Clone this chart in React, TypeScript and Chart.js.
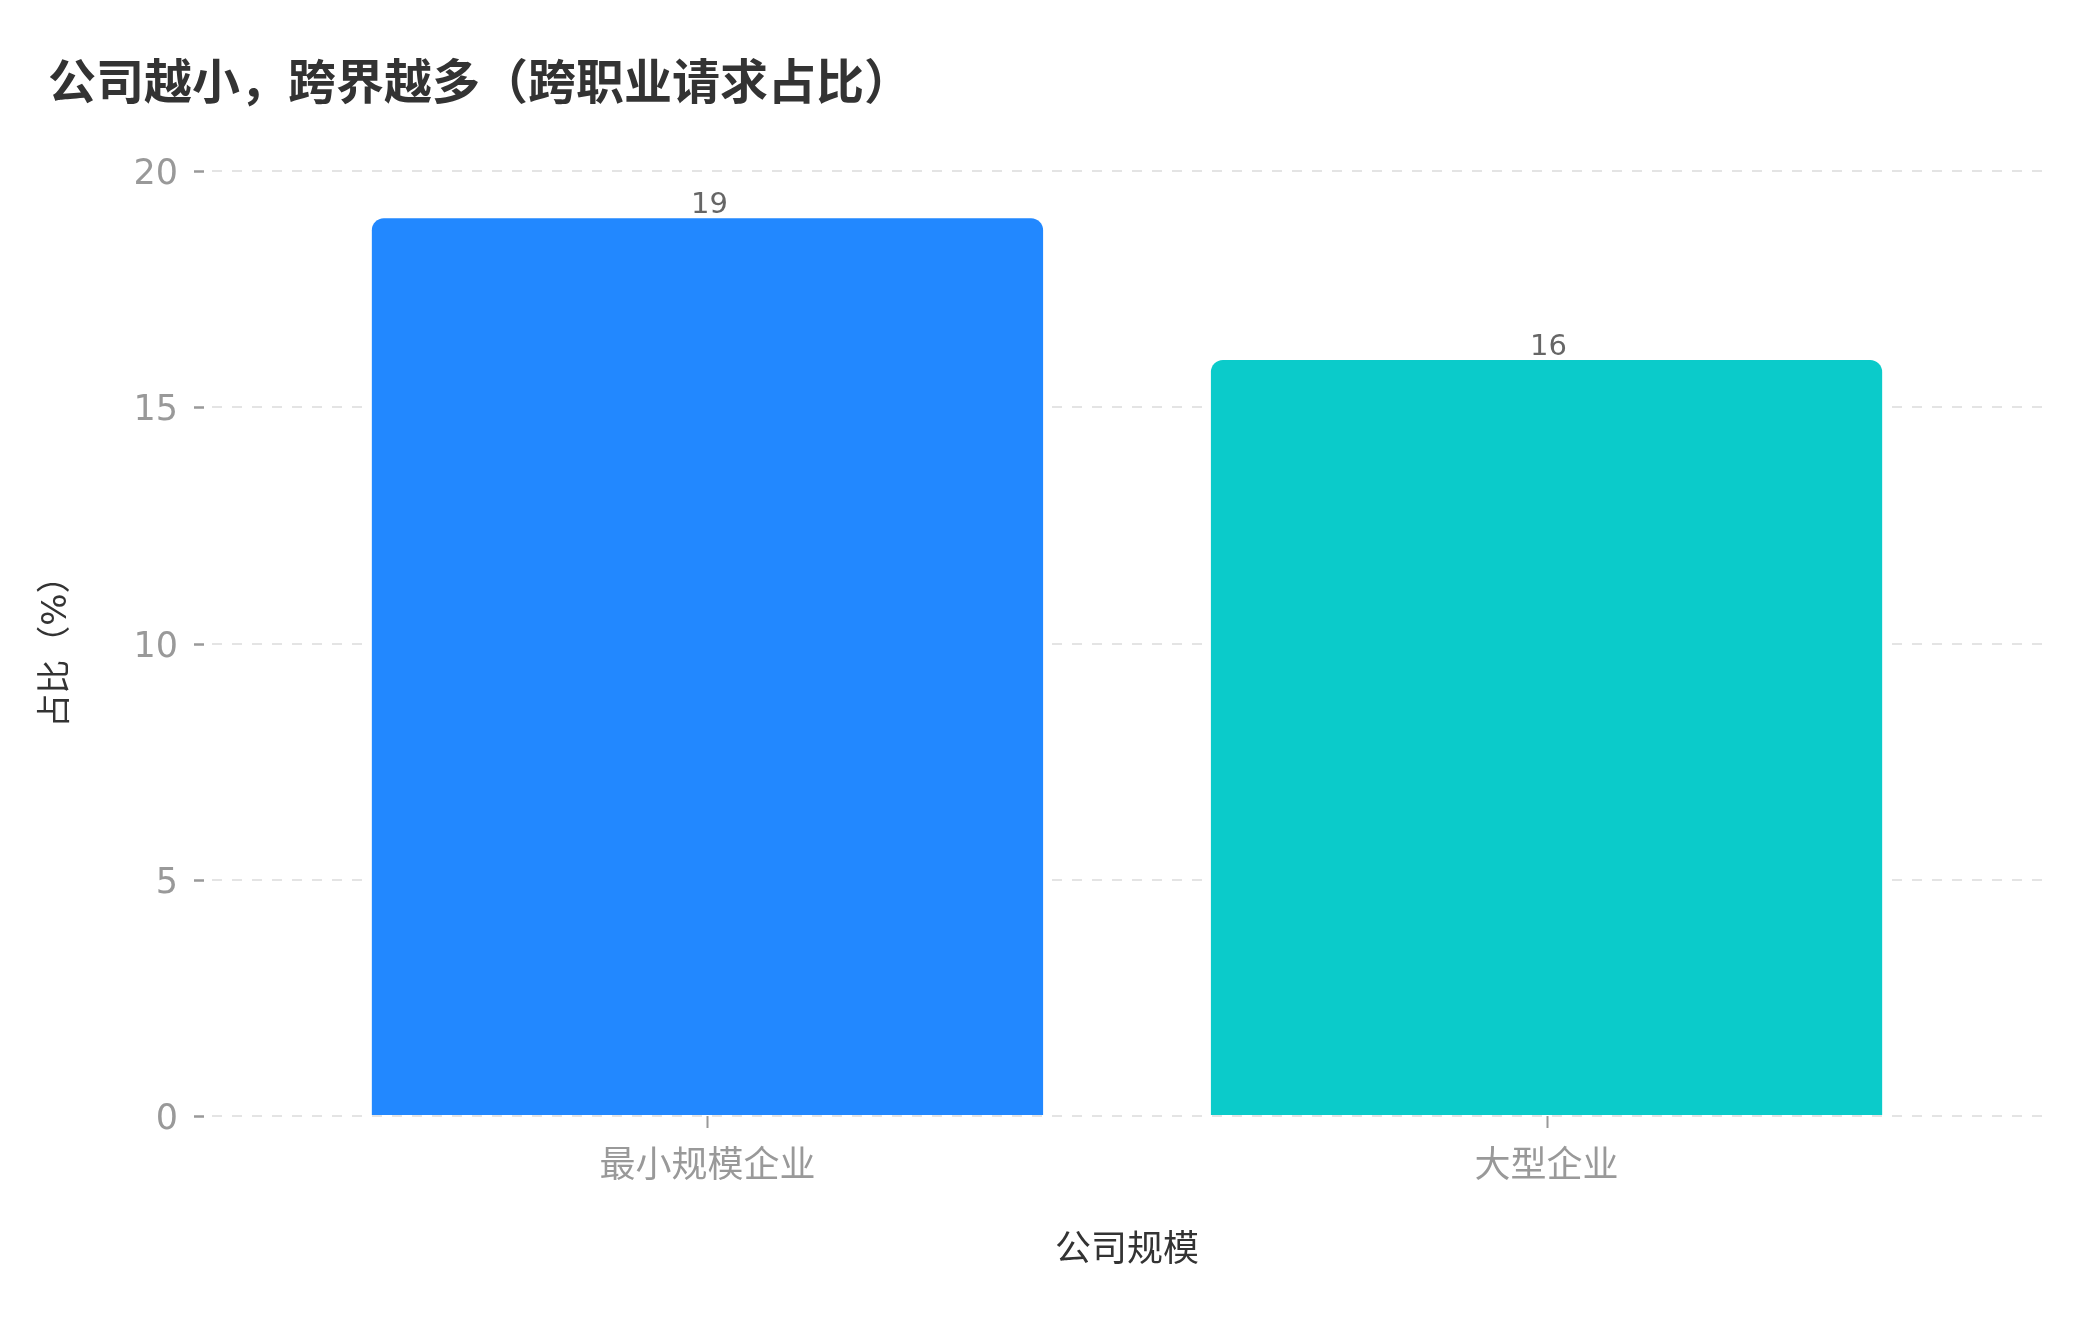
import React, { useEffect, useRef } from "react";
import { Chart, registerables } from "chart.js";

Chart.register(...registerables);

const TITLE = "公司越小，跨界越多（跨职业请求占比）";
const categories = ["最小规模企业", "大型企业"];
const values = [19, 16];
const barColors = ["#2288FF", "#0BCBCA"];
const yTicks = [0, 5, 10, 15, 20];
const xAxisTitle = "公司规模";
const yAxisTitle = "占比（%）";

const FONT = '"DejaVu Sans", "Noto Sans CJK SC", sans-serif';
const CJK = '"Noto Sans CJK SC", sans-serif';

const extrasPlugin = {
  id: "extras",
  afterDatasetsDraw(chart: any) {
    const ctx = chart.ctx;
    const meta = chart.getDatasetMeta(0);
    ctx.save();
    ctx.fillStyle = "#666666";
    ctx.font = `29px ${FONT}`;
    ctx.textAlign = "center";
    ctx.textBaseline = "middle";
    meta.data.forEach((el: any, i: number) => {
      ctx.fillText(String(values[i]), el.x + 2, el.y - 13);
    });
    ctx.restore();
  },
  afterDraw(chart: any) {
    const ctx = chart.ctx;
    const ys = chart.scales.y;
    const xs = chart.scales.x;
    const area = chart.chartArea;
    ctx.save();
    ctx.strokeStyle = "#999999";
    ctx.lineWidth = 2.5;
    yTicks.forEach((t) => {
      const py = Math.round(ys.getPixelForValue(t)) + 0.5;
      ctx.beginPath();
      ctx.moveTo(area.left - 18, py);
      ctx.lineTo(area.left - 8, py);
      ctx.stroke();
    });
    ctx.lineWidth = 2;
    categories.forEach((_, i) => {
      const px = Math.round(xs.getPixelForValue(i)) + 0.5;
      ctx.beginPath();
      ctx.moveTo(px, area.bottom);
      ctx.lineTo(px, area.bottom + 12);
      ctx.stroke();
    });
    ctx.restore();
  },
};

export default function App() {
  const ref = useRef<HTMLCanvasElement | null>(null);
  useEffect(() => {
    document.body.style.margin = "0";
    const canvas = ref.current;
    if (!canvas) return;
    const chart = new Chart(canvas, {
      type: "bar",
      data: {
        datasets: [
          {
            data: categories.map((_, i) => ({ x: i, y: values[i] })) as any,
            backgroundColor: barColors,
            borderRadius: 12,
            borderSkipped: "start",
            categoryPercentage: 1,
            barPercentage: 0.8,
          },
        ],
      },
      options: {
        animation: false,
        responsive: false,
        devicePixelRatio: 1,
        layout: { padding: { left: 48, right: 58, top: 0, bottom: 0 } },
        plugins: {
          legend: { display: false },
          tooltip: { enabled: false },
          title: {
            display: true,
            text: TITLE,
            align: "start",
            color: "#333333",
            font: { family: CJK, size: 48, weight: "bold", lineHeight: 1.2 },
            padding: { top: 52, bottom: 61.4 },
          },
        },
        scales: {
          x: {
            type: "linear",
            offset: false,
            min: -0.5905,
            max: 1.5905,
            grid: { display: false, drawTicks: false, offset: false },
            border: { display: false },
            afterBuildTicks: (scale: any) => {
              scale.ticks = categories.map((_, i) => ({ value: i }));
            },
            afterFit: (scale: any) => {
              scale.height = 204;
            },
            ticks: {
              padding: 30,
              color: "#999999",
              font: { family: FONT, size: 36 },
              callback: (v: any) => categories[v as number] ?? "",
              maxRotation: 0,
              autoSkip: false,
            },
            title: {
              display: true,
              text: xAxisTitle,
              color: "#333333",
              font: { family: FONT, size: 36, lineHeight: 1.2 },
              padding: { top: 0, bottom: 46.4 },
            },
          },
          y: {
            min: 0,
            max: 20,
            grid: {
              drawTicks: false,
              color: "#e4e4e4",
              lineWidth: 2,
            },
            border: { display: false, dash: [10, 10] },
            afterBuildTicks: (scale: any) => {
              scale.ticks = yTicks.map((v) => ({ value: v }));
            },
            afterFit: (scale: any) => {
              scale.width = 164;
            },
            ticks: {
              padding: 34,
              labelOffset: 4,
              color: "#999999",
              font: { family: FONT, size: 35 },
            },
            title: {
              display: true,
              text: yAxisTitle,
              color: "#333333",
              font: { family: FONT, size: 34, lineHeight: 1.2 },
              padding: { top: -11, bottom: 0 },
            },
          },
        },
      },
      plugins: [extrasPlugin],
    } as any);
    return () => chart.destroy();
  }, []);
  return (
    <div style={{ width: 2100, height: 1320, background: "#fff" }}>
      <canvas ref={ref} width={2100} height={1320} style={{ width: 2100, height: 1320, display: "block" }} />
    </div>
  );
}
